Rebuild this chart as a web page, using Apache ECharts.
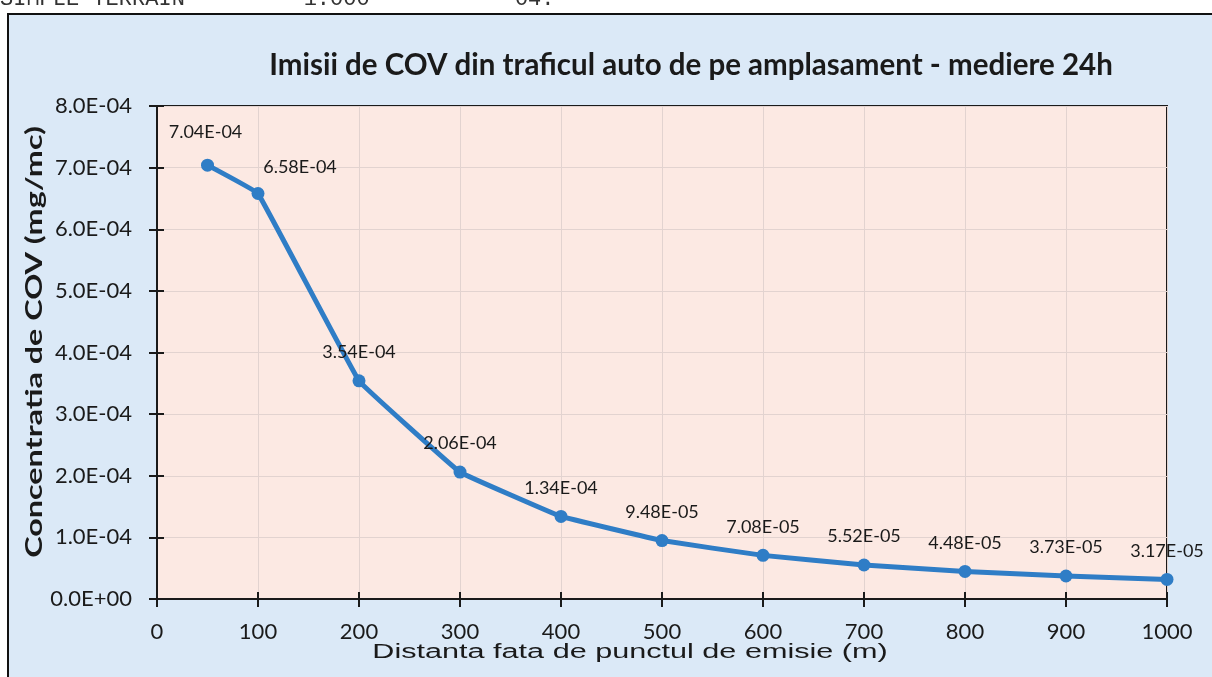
<!DOCTYPE html>
<html>
<head>
<meta charset="utf-8">
<script src="https://cdn.jsdelivr.net/npm/echarts@6/dist/echarts.min.js"></script>
<style>
  html, body { margin: 0; padding: 0; background: #fff; }
  #main { width: 1212px; height: 677px; }
</style>
</head>
<body>
<div id="main"></div>
<script>
// distances (m) and concentrations (mg/mc)
var distances = [50, 100, 200, 300, 400, 500, 600, 700, 800, 900, 1000];
var concentrations = [7.04e-4, 6.58e-4, 3.54e-4, 2.06e-4, 1.34e-4, 9.48e-5, 7.08e-5, 5.52e-5, 4.48e-5, 3.73e-5, 3.17e-5];

var titleText = 'Imisii de COV din traficul auto de pe amplasament - mediere 24h';
var xName = 'Distanta fata de punctul de emisie (m)';
var yName = 'Concentratia de COV (mg/mc)';

// label nudges for the first two points (the rest sit above)
var labelShift = { 0: [-2, -4], 1: [42, 2] };

function sci(v, d) {
  if (v === 0) return (0).toFixed(d) + 'E+00';
  var e = Math.floor(Math.log10(Math.abs(v)) + 1e-9);
  var m = v / Math.pow(10, e);
  if (Math.abs(m) >= 9.9999) { m = m / 10; e += 1; }
  var s = e < 0 ? '-' : '+';
  var a = Math.abs(e);
  return m.toFixed(d) + 'E' + s + (a < 10 ? '0' + a : a);
}

var points = distances.map(function (x, i) {
  var p = { value: [x, concentrations[i]] };
  if (labelShift[i]) p.label = { offset: labelShift[i] };
  return p;
});

var tickStyle = { color: '#1a1a1a', width: 2 };

var myChart = echarts.init(document.getElementById('main'));
var option = {
  backgroundColor: '#ffffff',
  animation: false,
  graphic: [
    {
      type: 'text', left: 0, top: -12, z: 0,
      style: { text: 'SIMPLE TERRAIN         1.000           04.', font: '22px "Liberation Mono"', fill: '#333' }
    },
    {
      type: 'rect', z: -1, silent: true,
      shape: { x: 8, y: 14, width: 1230, height: 700 },
      style: { fill: '#dbe9f7', stroke: '#111', lineWidth: 2 }
    },
    {
      // y axis title, stretched like the original
      type: 'text', x: 35, y: 342, rotation: Math.PI / 2, scaleX: 1.47, z: 10,
      style: { text: yName, font: 'bold 22px Lato', fill: '#1a1a1a', align: 'center', verticalAlign: 'middle' }
    },
    {
      // x axis title
      type: 'text', x: 630, y: 652, scaleX: 1.53, z: 10,
      style: { text: xName, font: '20px "Liberation Sans"', fill: '#1a1a1a', align: 'center', verticalAlign: 'middle' }
    }
  ],
  title: {
    text: titleText,
    left: 686, top: 45, textAlign: 'center',
    textStyle: { fontFamily: 'Lato', fontWeight: 'bold', fontSize: 29.5, color: '#1a1a1a' }
  },
  grid: {
    left: 157, right: 45, top: 106, bottom: 78,
    show: true, backgroundColor: '#fce9e3', borderColor: '#1a1a1a', borderWidth: 2
  },
  xAxis: [{
    type: 'value', min: 0, max: 1000, interval: 100,
    axisLine: { lineStyle: tickStyle },
    axisTick: { show: true, length: 8, lineStyle: tickStyle },
    axisLabel: { margin: 22, fontFamily: 'Lato', fontSize: 22, color: '#1a1a1a', formatter: function (v) { return String(v); } },
    splitLine: { show: true, lineStyle: { color: '#e2d3d0', width: 1 } }
  }, {
    // inner half of the cross ticks
    type: 'value', min: 0, max: 1000, interval: 100, position: 'bottom',
    axisLine: { show: false },
    axisTick: { show: true, inside: true, length: 7, lineStyle: tickStyle },
    axisLabel: { show: false },
    splitLine: { show: false }
  }],
  yAxis: [{
    type: 'value', min: 0, max: 8e-4, interval: 1e-4,
    axisLine: { show: true, lineStyle: tickStyle },
    axisTick: { show: true, length: 8, lineStyle: tickStyle },
    axisLabel: {
      margin: 25, fontFamily: 'Lato', fontSize: 22, color: '#1a1a1a',
      formatter: function (v) { return sci(v, 1); }
    },
    splitLine: { show: true, lineStyle: { color: '#e2d3d0', width: 1 } }
  }, {
    type: 'value', min: 0, max: 8e-4, interval: 1e-4, position: 'left',
    axisLine: { show: false },
    axisTick: { show: true, inside: true, length: 7, lineStyle: tickStyle },
    axisLabel: { show: false },
    splitLine: { show: false }
  }],
  series: [{
    type: 'line',
    xAxisIndex: 0, yAxisIndex: 0,
    data: points,
    smooth: 0.05,
    symbol: 'circle', symbolSize: 13,
    lineStyle: { color: '#2f7dc6', width: 5 },
    itemStyle: { color: '#2f7dc6' },
    label: {
      show: true, position: 'top', distance: 13,
      fontFamily: 'Lato', fontSize: 18, color: '#1a1a1a',
      formatter: function (p) { return sci(p.value[1], 2); }
    },
    z: 3
  }]
};
myChart.setOption(option);
</script>
</body>
</html>
